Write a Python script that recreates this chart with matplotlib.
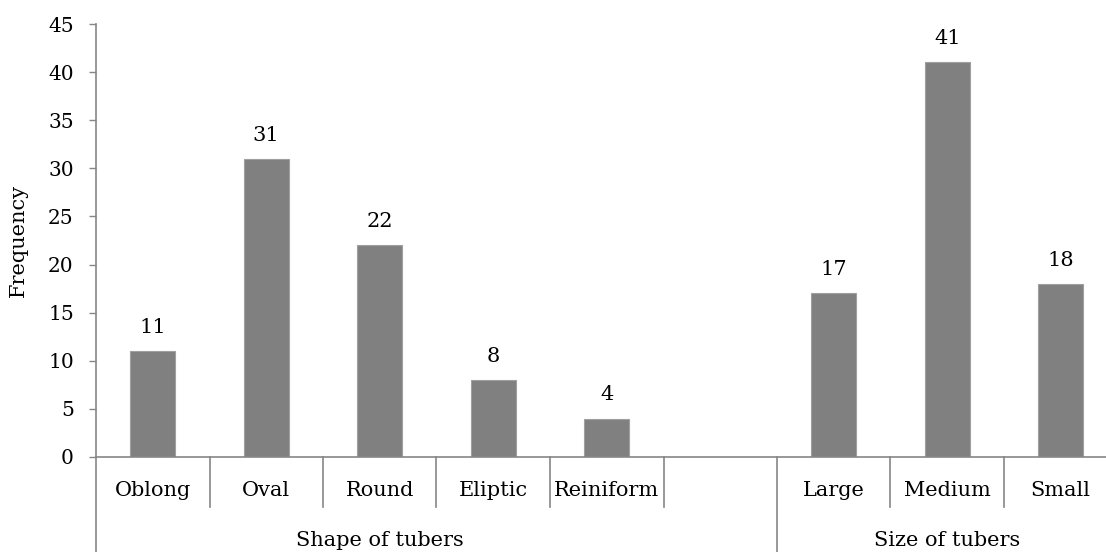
import matplotlib.pyplot as plt
import matplotlib.transforms as mtransforms

plt.rcParams['font.family'] = ['DejaVu Serif']

categories = ['Oblong', 'Oval', 'Round', 'Eliptic', 'Reiniform', '', 'Large', 'Medium', 'Small']
frequency = [11, 31, 22, 8, 4, None, 17, 41, 18]
groups = ['Shape of tubers', 'Size of tubers']
group_spans = [(0, 4), (6, 8)]      # first and last category index of each group
group_breaks = [-0.5, 5.5]          # long separators under the axis

fig = plt.figure(figsize=(11.06, 5.52), dpi=100)
ax = fig.add_axes([96 / 1106, 1 - 457 / 552, 1 - 96 / 1106, (457 - 24) / 552])

xs = [i for i, v in enumerate(frequency) if v is not None]
vals = [v for v in frequency if v is not None]
ax.bar(xs, vals, width=0.4, color='#808080', edgecolor='#a0a0a0', linewidth=0.8, zorder=2)

for x, v in zip(xs, vals):
    ax.annotate(str(v), (x, v), xytext=(0, 13), textcoords='offset points',
                ha='center', va='baseline', fontsize=15)

ax.set_xlim(-0.5, -0.5 + 1010 / 113.5)
ax.set_ylim(0, 45)
ax.set_yticks(range(0, 46, 5))
ax.tick_params(axis='y', length=5, width=1, color='#868686', labelsize=14.5, pad=11)
ax.set_xticks([])
ax.set_ylabel('Frequency', fontsize=15)
ax.yaxis.set_label_coords(-0.067, 0.5)

for side in ('top', 'right'):
    ax.spines[side].set_visible(False)
for side in ('left', 'bottom'):
    ax.spines[side].set_color('#868686')
    ax.spines[side].set_linewidth(1.2)

# multi-level category axis drawn below the plot
trans = mtransforms.blended_transform_factory(ax.transData, ax.transAxes)
short = -50 / 433
long_ = -100 / 433
for i in range(len(categories)):
    b = i + 0.5
    if b not in group_breaks:
        ax.plot([b, b], [0, short], transform=trans, color='#868686', lw=1.2, clip_on=False)
for b in group_breaks:
    ax.plot([b, b], [0, long_], transform=trans, color='#868686', lw=1.2, clip_on=False)

for i, name in enumerate(categories):
    ax.text(i, -33 / 433, name, transform=trans, ha='center', va='center', fontsize=15)

for name, (a, b) in zip(groups, group_spans):
    ax.text((a + b) / 2, -83 / 433, name, transform=trans, ha='center', va='center', fontsize=15)

fig.savefig('out.png', dpi=100)
